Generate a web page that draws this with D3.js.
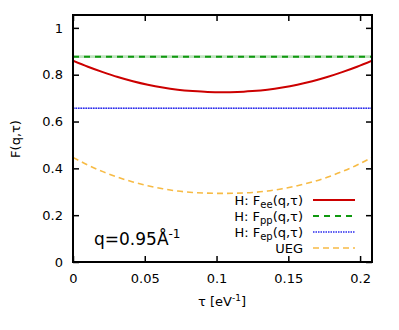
<!DOCTYPE html>
<html>
<head>
<meta charset="utf-8">
<script src="https://cdn.jsdelivr.net/npm/d3@7"></script>
<style>
  body { margin: 0; background: #fff; }
  text { font-family: "DejaVu Sans", sans-serif; }
</style>
</head>
<body>
<svg width="399" height="330"></svg>
<script>
// imaginary time points, 0 .. beta
var tau = [0, 0.0104, 0.0208, 0.0312, 0.0417, 0.0521, 0.0625, 0.0729, 0.0833, 0.0937, 0.1042,
           0.1146, 0.1250, 0.1354, 0.1458, 0.1563, 0.1667, 0.1771, 0.1875, 0.1979, 0.2083];
var Fee = [0.860, 0.834, 0.811, 0.790, 0.772, 0.757, 0.745, 0.736, 0.730, 0.726, 0.725,
           0.726, 0.730, 0.736, 0.745, 0.757, 0.772, 0.790, 0.811, 0.834, 0.860];
var Fpp = [0.877, 0.877, 0.877, 0.877, 0.877, 0.877, 0.877, 0.877, 0.877, 0.877, 0.877,
           0.877, 0.877, 0.877, 0.877, 0.877, 0.877, 0.877, 0.877, 0.877, 0.877];
var FppErr = 0.006;
var Fep = [0.657, 0.657, 0.657, 0.657, 0.657, 0.657, 0.657, 0.657, 0.657, 0.657, 0.657,
           0.657, 0.657, 0.657, 0.657, 0.657, 0.657, 0.657, 0.657, 0.657, 0.657];
var FepErr = 0.003;
var UEG = [0.447, 0.414, 0.386, 0.362, 0.342, 0.326, 0.313, 0.303, 0.297, 0.294, 0.293,
           0.294, 0.297, 0.303, 0.313, 0.326, 0.342, 0.362, 0.386, 0.414, 0.447];

var xTicks = [0, 0.05, 0.1, 0.15, 0.2];
var xTickLabels = ["0", "0.05", "0.1", "0.15", "0.2"];
var yTicks = [0, 0.2, 0.4, 0.6, 0.8, 1];
var yTickLabels = ["0", "0.2", "0.4", "0.6", "0.8", "1"];

var m = {left: 73, right: 372, top: 15, bottom: 262};

var svg = d3.select("svg");
var x = d3.scaleLinear().domain([0, 0.2083]).range([m.left, m.right]);
var y = d3.scaleLinear().domain([0, 1.055]).range([m.bottom, m.top]);

svg.append("clipPath").attr("id", "clip")
  .append("rect").attr("x", m.left).attr("y", m.top)
  .attr("width", m.right - m.left).attr("height", m.bottom - m.top);

var plot = svg.append("g").attr("clip-path", "url(#clip)");

// error bands
var band = function(vals, err) {
  return d3.area().x(function(d, i) { return x(tau[i]); })
    .y0(function(d) { return y(d - err); })
    .y1(function(d) { return y(d + err); })(vals);
};
plot.append("path").attr("d", band(Fpp, FppErr)).attr("fill", "#bfe3bf");
plot.append("path").attr("d", band(Fep, FepErr)).attr("fill", "#c4c4f6");

var line = d3.line().x(function(d, i) { return x(tau[i]); })
  .y(function(d) { return y(d); }).curve(d3.curveMonotoneX);

var series = [
  {vals: Fee, color: "#cc0000", width: 2, dash: null},
  {vals: Fpp, color: "#0f990f", width: 2, dash: "6,5"},
  {vals: Fep, color: "#2b2bee", width: 1.5, dash: "1.5,1"},
  {vals: UEG, color: "#f7bb45", width: 1.6, dash: "6,4"}
];

series.forEach(function(s) {
  plot.append("path").attr("d", line(s.vals))
    .attr("fill", "none").attr("stroke", s.color)
    .attr("stroke-width", s.width).attr("stroke-dasharray", s.dash);
});

// axes with inward ticks on all sides
var fmtX = function(d, i) { return xTickLabels[i]; };
var fmtY = function(d, i) { return yTickLabels[i]; };

var gx = svg.append("g").attr("transform", "translate(0," + m.bottom + ")")
  .call(d3.axisBottom(x).tickValues(xTicks).tickFormat(fmtX).tickSize(-6).tickPadding(12));
var gy = svg.append("g").attr("transform", "translate(" + m.left + ",0)")
  .call(d3.axisLeft(y).tickValues(yTicks).tickFormat(fmtY).tickSize(-6).tickPadding(10));
svg.append("g").attr("transform", "translate(0," + m.top + ")")
  .call(d3.axisTop(x).tickValues(xTicks).tickFormat("").tickSize(-6));
svg.append("g").attr("transform", "translate(" + m.right + ",0)")
  .call(d3.axisRight(y).tickValues(yTicks).tickFormat("").tickSize(-6));

svg.selectAll(".domain").remove();
svg.selectAll(".tick line").attr("stroke", "#000").attr("stroke-width", 1.5);
svg.selectAll(".tick text").attr("font-size", 13).attr("fill", "#000")
  .attr("font-family", "DejaVu Sans");

svg.append("rect").attr("x", m.left).attr("y", m.top)
  .attr("width", m.right - m.left).attr("height", m.bottom - m.top)
  .attr("fill", "none").attr("stroke", "#000").attr("stroke-width", 2);

// axis titles
svg.append("text").attr("transform", "translate(20,139) rotate(-90)")
  .attr("text-anchor", "middle").attr("font-size", 13).text("F(q,τ)");

var xl = svg.append("text").attr("x", 222).attr("y", 306)
  .attr("text-anchor", "middle").attr("font-size", 13);
xl.append("tspan").text("τ [eV");
xl.append("tspan").attr("font-size", 9).attr("dy", -5).text("-1");
xl.append("tspan").attr("dy", 5).text("]");

// annotation
var an = svg.append("text").attr("x", 94).attr("y", 245).attr("font-size", 17);
an.append("tspan").text("q=0.95Å");
an.append("tspan").attr("font-size", 12).attr("dy", -7).text("-1");

// legend
var legend = [
  {pre: "H: F", sub: "ee", post: "(q,τ)"},
  {pre: "H: F", sub: "pp", post: "(q,τ)"},
  {pre: "H: F", sub: "ep", post: "(q,τ)"},
  {pre: "UEG", sub: null, post: ""}
];
legend.forEach(function(l, i) {
  var yy = 200 + i * 16;
  var t = svg.append("text").attr("x", 303).attr("y", yy + 5)
    .attr("text-anchor", "end").attr("font-size", 13);
  t.append("tspan").text(l.pre);
  if (l.sub) {
    t.append("tspan").attr("font-size", 10).attr("dy", 3).text(l.sub);
    t.append("tspan").attr("dy", -3).text(l.post);
  }
  var s = series[i];
  svg.append("line").attr("x1", 313).attr("x2", 355).attr("y1", yy).attr("y2", yy)
    .attr("stroke", s.color).attr("stroke-width", s.width)
    .attr("stroke-dasharray", s.dash);
});
</script>
</body>
</html>
